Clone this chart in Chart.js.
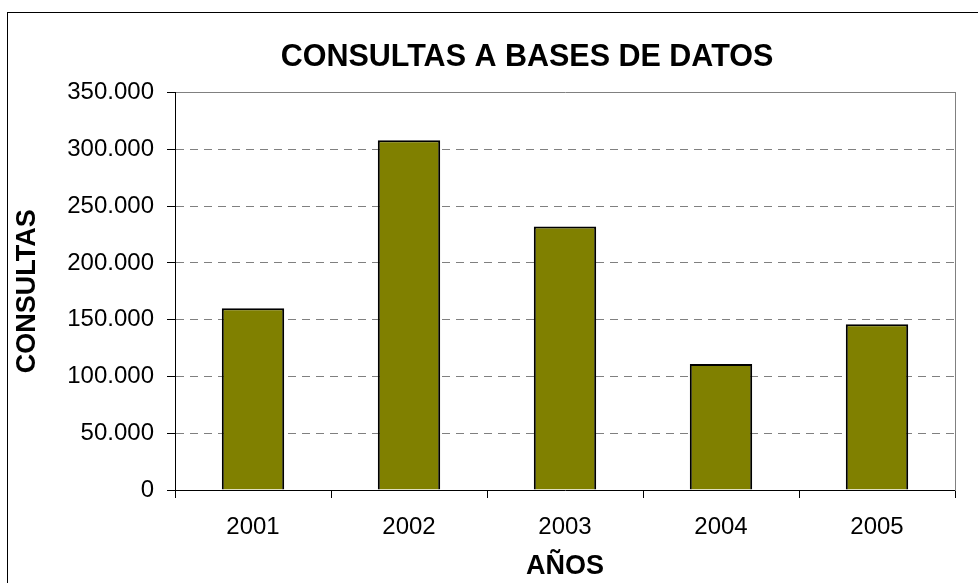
<!DOCTYPE html>
<html>
<head>
<meta charset="utf-8">
<script src="https://cdn.jsdelivr.net/npm/chart.js@4/dist/chart.umd.min.js"></script>
<style>
  html, body { margin: 0; padding: 0; background: #fff; overflow: hidden; }
  body { width: 978px; height: 583px; position: relative; }
  #marco { position: absolute; left: 7px; top: 12px; width: 2000px; height: 2000px; border: 1px solid #000; }
  #grafico { position: absolute; left: 0; top: 0; }
</style>
</head>
<body>
<div id="marco"></div>
<canvas id="grafico" width="1054" height="583"></canvas>
<script>
// ── DATOS ──────────────────────────────────────
const ANIOS     = ['2001', '2002', '2003', '2004', '2005'];
const CONSULTAS = [160000, 308000, 232000, 111000, 146000];
const Y_MAX     = 350000;
const Y_PASO    = 50000;

// separador de miles con punto: 350000 -> 350.000
function formatoMiles(v) {
  return String(v).replace(/\B(?=(\d{3})+(?!\d))/g, '.');
}

const FUENTE = 'Liberation Sans, Arial, sans-serif';

// ── GRÁFICO ────────────────────────────────────
new Chart(document.getElementById('grafico'), {
  type: 'bar',
  data: {
    labels: ANIOS,
    datasets: [{
      label: 'Consultas',
      data: CONSULTAS,
      backgroundColor: '#808000',
      borderColor: '#000',
      borderWidth: 2,
      barPercentage: 0.4,
      categoryPercentage: 1
    }]
  },
  options: {
    responsive: false,
    animation: false,
    devicePixelRatio: 1,
    layout: { padding: 0 },
    plugins: {
      legend: { display: false },
      tooltip: { enabled: false },
      title: {
        display: true,
        text: 'CONSULTAS A BASES DE DATOS',
        color: '#000',
        font: { family: FUENTE, size: 30.5, weight: 'bold' },
        padding: { top: 39, bottom: 17 }
      }
    },
    scales: {
      x: {
        grid: { offset: true, drawOnChartArea: false, drawTicks: true, tickLength: 8, color: '#000' },
        border: { color: '#000', width: 1 },
        ticks: { color: '#000', padding: 15, font: { family: FUENTE, size: 24 } },
        title: {
          display: true,
          text: 'AÑOS',
          color: '#000',
          font: { family: FUENTE, size: 27, weight: 'bold' },
          padding: { top: 0, bottom: 0 }
        },
        afterFit: s => { s.height = 93; }
      },
      // eje superior vacío: borde gris arriba del área de trazado
      x2: {
        position: 'top',
        grid: { display: false },
        border: { color: '#808080', width: 1 },
        ticks: { display: false },
        afterFit: s => { s.height = 0; }
      },
      y: {
        min: 0,
        max: Y_MAX,
        grid: {
          color: '#808080',
          tickColor: '#000',
          tickBorderDash: [],
          tickLength: 8
        },
        // en v4 border.dash es el trazo discontinuo de las líneas de la grilla
        border: { color: '#000', width: 1, dash: [8, 6] },
        ticks: {
          stepSize: Y_PASO,
          color: '#000',
          padding: 13,
          font: { family: FUENTE, size: 24 },
          callback: v => formatoMiles(v)
        },
        title: {
          display: true,
          text: 'CONSULTAS',
          color: '#000',
          font: { family: FUENTE, size: 27, weight: 'bold' },
          padding: { top: 11, bottom: 0 }
        },
        afterFit: s => { s.width = 175; }
      },
      // eje derecho vacío: solo el borde gris del área de trazado
      y2: {
        position: 'right',
        grid: { display: false },
        border: { color: '#808080', width: 1 },
        ticks: { display: false },
        afterFit: s => { s.width = 99; }
      }
    }
  }
});
</script>
</body>
</html>
